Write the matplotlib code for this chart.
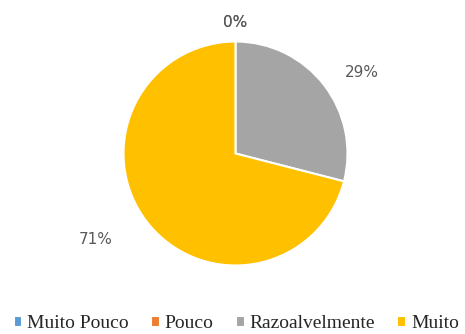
import matplotlib.pyplot as plt
import numpy as np

categorias = ['Muito Pouco', 'Pouco', 'Razoalvelmente', 'Muito']
valores = [0, 0, 29, 71]
cores = ['#5B9BD5', '#ED7D31', '#A5A5A5', '#FFC000']

# posicao dos rotulos (x, y) em unidades do raio
pos_rotulos = [(0.0, 1.17), (0.0, 1.17), (1.13, 0.72), (-1.25, -0.77)]

fig = plt.figure(figsize=(4.65, 3.34), dpi=100)
ax = fig.add_axes([0.2656, 0.2051, 0.4817, 0.6707])

wedges, _ = ax.pie(valores, colors=cores, startangle=90, counterclock=False,
                   wedgeprops=dict(edgecolor='white', linewidth=1.5))
ax.set_xlim(-1, 1)
ax.set_ylim(-1, 1)

total = sum(valores)
for v, (x, y) in zip(valores, pos_rotulos):
    ax.text(x, y, '{:.0f}%'.format(100 * v / total), ha='center', va='center',
            fontsize=11, color='#595959', clip_on=False)

fig.legend(wedges, categorias, loc='center', bbox_to_anchor=(0.508, 0.03),
           ncol=4, frameon=False, prop={'family': 'Liberation Serif', 'size': 14},
           handlelength=0.45, handleheight=0.45, handletextpad=0.25,
           columnspacing=1.15, labelcolor='#262626')

fig.savefig('out.png', dpi=100)
